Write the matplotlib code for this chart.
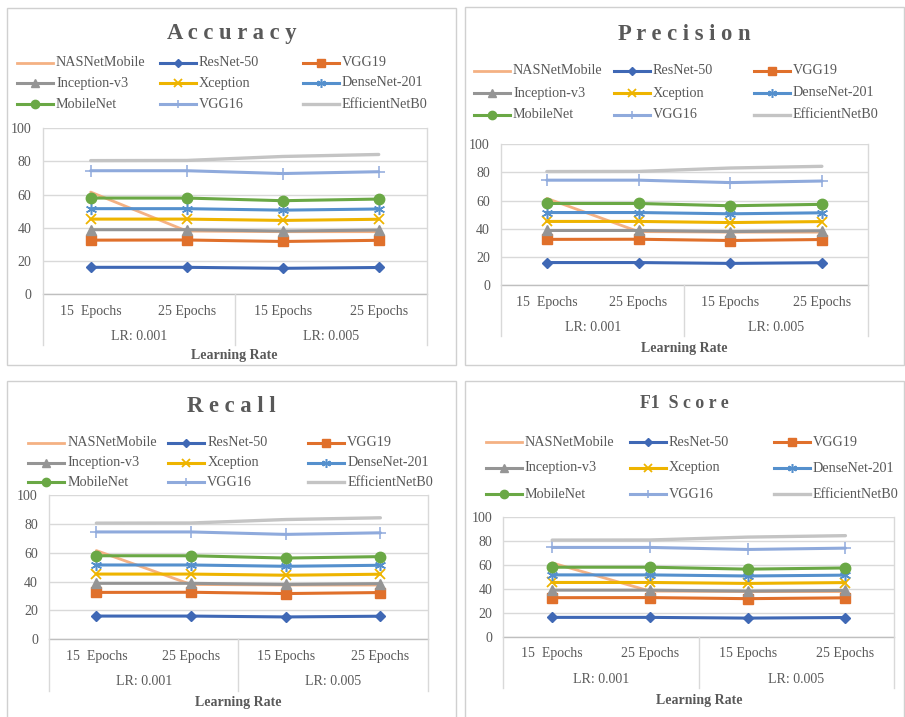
import matplotlib
matplotlib.use("Agg")
import matplotlib.pyplot as plt
from matplotlib.lines import Line2D
from matplotlib.patches import Rectangle
from matplotlib.transforms import blended_transform_factory

plt.rcParams['font.family'] = ['Liberation Serif', 'DejaVu Serif']

# x categories (two-level axis: epochs under learning rate)
epochs = ["15  Epochs", "25 Epochs", "15 Epochs", "25 Epochs"]
lr_groups = ["LR: 0.001", "LR: 0.005"]

# scores (%) per model, same for each metric panel
nasnet = [61.5, 38.0, 37.6, 37.6]
resnet50 = [16.1, 16.1, 15.5, 16.0]
vgg19 = [32.5, 32.6, 31.7, 32.4]
inception = [38.8, 38.8, 38.0, 38.6]
xception = [45.2, 45.2, 44.4, 45.1]
densenet = [51.5, 51.5, 50.6, 51.3]
mobilenet = [57.9, 57.9, 56.3, 57.3]
vgg16 = [74.4, 74.4, 72.7, 73.8]
efficientnet = [80.5, 80.6, 83.0, 84.2]

series = [
    ("NASNetMobile", nasnet, dict(color="#F4B183", lw=2.0, marker=None)),
    ("ResNet-50", resnet50, dict(color="#3F68B5", lw=2.2, marker="D", ms=5.5)),
    ("VGG19", vgg19, dict(color="#E0702B", lw=2.2, marker="s", ms=7)),
    ("Inception-v3", inception, dict(color="#959595", lw=2.2, marker="^", ms=7)),
    ("Xception", xception, dict(color="#EEB400", lw=2.2, marker="x", ms=7, mew=1.3)),
    ("DenseNet-201", densenet, dict(color="#5590CD", lw=2.2, marker=(6, 2, 0), ms=8, mew=1.1)),
    ("MobileNet", mobilenet, dict(color="#6AA845", lw=2.2, marker="o", ms=7.5)),
    ("VGG16", vgg16, dict(color="#8FAADC", lw=2.2, marker="+", ms=8, mew=1.1)),
    ("EfficientNetB0", efficientnet, dict(color="#C4C4C4", lw=2.4, marker=None)),
]

W, H = 905, 717
TXT = "#595959"
GRID = "#D9D9D9"

# pixel layout of each panel (top-left origin)
panels = [
    dict(title="A c c u r a c y", tsize=16.3, box=(7, 8, 456, 365), plot=(42.7, 128.3, 426.7, 294),
         catb=345, ty=34, rows=(63, 83, 104), cols=(17, 160, 303), lry=355),
    dict(title="P r e c i s i o n", tsize=16.3, box=(465, 7, 904, 365), plot=(501, 144, 867.7, 285.3),
         catb=336, ty=34, rows=(71, 93, 115), cols=(474, 613.5, 753.5), lry=348.5),
    dict(title="R e c a l l", tsize=16.3, box=(7, 381, 456, 720), plot=(49, 495, 427.7, 639.3),
         catb=690.7, ty=407, rows=(443, 462.5, 482), cols=(28.3, 168.3, 308.3), lry=702.5),
    dict(title="F1  S c o r e", tsize=12.8, box=(465, 381, 904, 720), plot=(503.3, 516.7, 894.3, 636.7),
         catb=688, ty=404, rows=(442, 468, 494), cols=(485.7, 630, 774), lry=700.7),
]


def fx(px):
    return px / W


def fy(py):
    return 1 - py / H


fig = plt.figure(figsize=(W / 100, H / 100), dpi=100)

for p in panels:
    bx0, by0, bx1, by1 = p["box"]
    fig.add_artist(Rectangle((fx(bx0), fy(by1)), fx(bx1 - bx0), (by1 - by0) / H,
                             transform=fig.transFigure, fill=False, ec="#D0D0D0", lw=1.0))

    l, t, r, b = p["plot"]
    ax = fig.add_axes([fx(l), fy(b), fx(r - l), (b - t) / H])
    x = list(range(len(epochs)))
    handles = []
    for i, (name, vals, st) in enumerate(series):
        (ln,) = ax.plot(x, vals, color=st["color"], lw=st["lw"], marker=st["marker"],
                        ms=st.get("ms", 6), mew=st.get("mew", 1.0), mfc=st["color"],
                        mec=st["color"], zorder=3 + i, solid_capstyle="round", clip_on=False)
        handles.append((name, st))

    ax.set_xlim(-0.5, 3.5)
    ax.set_ylim(0, 100)
    ax.set_yticks(range(0, 101, 20))
    ax.grid(axis="y", color=GRID, lw=1.0)
    ax.set_axisbelow(True)
    for s in ["top", "right", "left", "bottom"]:
        ax.spines[s].set_visible(False)
    ax.tick_params(axis="y", length=0, pad=8, labelsize=10, labelcolor=TXT)
    ax.set_xticks([])

    # category axis frame and labels
    bt = blended_transform_factory(ax.transData, fig.transFigure)
    ax.plot([-0.5, 3.5], [fy(b), fy(b)], color="#BFBFBF", lw=1.0, transform=bt, clip_on=False)
    for xv, top in [(-0.5, t), (3.5, t), (1.5, b)]:
        ax.plot([xv, xv], [fy(top), fy(p["catb"])], color=GRID, lw=1.0, transform=bt, clip_on=False)
    for xv, lab in zip(x, epochs):
        ax.text(xv, fy(b + 17), lab, transform=bt, ha="center", va="center", fontsize=10, color=TXT)
    for k, lab in enumerate(lr_groups):
        ax.text(0.5 + 2 * k, fy(b + 42.5), lab, transform=bt, ha="center", va="center",
                fontsize=10, color=TXT)
    ax.text(1.5, fy(p["lry"]), "Learning Rate", transform=bt, ha="center", va="center",
            fontsize=10, fontweight="bold", color=TXT)

    # title
    fig.text(fx((bx0 + bx1) / 2), fy(p["ty"]), p["title"], ha="center", va="center",
             fontsize=p["tsize"], fontweight="bold", color=TXT)

    # legend, three columns
    for i, (name, st) in enumerate(handles):
        row, col = divmod(i, 3)
        x0 = p["cols"][col]
        y0 = p["rows"][row]
        fig.add_artist(Line2D([fx(x0), fx(x0 + 36)], [fy(y0), fy(y0)], transform=fig.transFigure,
                              color=st["color"], lw=st["lw"]))
        if st["marker"] is not None:
            fig.add_artist(Line2D([fx(x0 + 18)], [fy(y0)], transform=fig.transFigure, ls="none",
                                  marker=st["marker"], ms=st.get("ms", 6) * 0.8,
                                  mew=st.get("mew", 1.0), color=st["color"]))
        fig.text(fx(x0 + 39), fy(y0), name, ha="left", va="center", fontsize=10.2, color=TXT)

fig.savefig("out.png", dpi=100)
